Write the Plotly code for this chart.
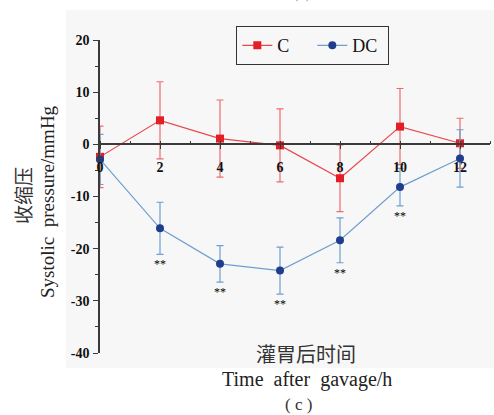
import plotly.graph_objects as go

# Data
hours = [0, 2, 4, 6, 8, 10, 12]
c_mean = [-2.4, 4.6, 1.1, -0.2, -6.5, 3.4, 0.2]
c_err = [5.9, 7.4, 7.4, 7.0, 6.4, 7.3, 4.8]
dc_mean = [-2.9, -16.1, -22.9, -24.2, -18.4, -8.2, -2.7]
dc_err = [4.8, 5.0, 3.5, 4.5, 4.3, 3.6, 5.5]
sig_hours = [2, 4, 6, 8, 10]
sig_labels = ["**", "**", "**", "**", "**"]

x_ticks = [0, 2, 4, 6, 8, 10, 12]
y_ticks = [-40, -30, -20, -10, 0, 10, 20]

SERIF = "Liberation Serif, Times New Roman, serif"
CJK = "Noto Sans CJK SC"
AXIS = "#3a3a3a"

RED = "#e41e26"
RED_LINE = "#e8474d"
RED_ERR = "#ef6b70"
BLUE = "#1f3d8c"
BLUE_LINE = "#6e9fd0"
BLUE_ERR = "#6e9fd0"

fig = go.Figure()

fig.add_trace(go.Scatter(
    x=hours, y=c_mean, name="C", mode="lines+markers",
    line=dict(color=RED_LINE, width=1.2),
    marker=dict(symbol="square", size=8, color=RED),
    error_y=dict(type="data", array=c_err, visible=True, color=RED_ERR, thickness=1.2, width=3.5),
    cliponaxis=False,
))
fig.add_trace(go.Scatter(
    x=hours, y=dc_mean, name="DC", mode="lines+markers",
    line=dict(color=BLUE_LINE, width=1.2),
    marker=dict(symbol="circle", size=8, color=BLUE),
    error_y=dict(type="data", array=dc_err, visible=True, color=BLUE_ERR, thickness=1.2, width=3.5),
    cliponaxis=False,
))

# significance marks below DC error bars
for h, lab in zip(sig_hours, sig_labels):
    i = hours.index(h)
    fig.add_annotation(x=h, y=dc_mean[i] - dc_err[i], text=lab, showarrow=False,
                       xanchor="center", yanchor="top", yshift=-1,
                       font=dict(family=SERIF, size=12, color="#000"))

ymin, ymax = -40, 20
fig.update_layout(
    width=494, height=415,
    margin=dict(l=100, r=4, t=40, b=62, autoexpand=False),
    paper_bgcolor="white", plot_bgcolor="rgba(0,0,0,0)",
    showlegend=True,
    legend=dict(orientation="h", x=0.349, y=1.045, xanchor="left", yanchor="top",
                bgcolor="rgba(0,0,0,0)", bordercolor="#333", borderwidth=1.2,
                font=dict(family=SERIF, size=18, color="#111"),
                itemwidth=30, entrywidth=30, entrywidthmode="pixels", tracegroupgap=0),
    xaxis=dict(range=[0, 13], tickvals=x_ticks, ticktext=[str(v) for v in x_ticks],
               showgrid=False, zeroline=False, showline=True, linecolor=AXIS, linewidth=1.6,
               anchor="free", position=(0 - ymin) / (ymax - ymin),
               ticks="outside", ticklen=4, tickcolor=AXIS, tickwidth=1.2, ticklabelstandoff=6,
               minor=dict(dtick=1, tick0=0, ticks="inside", ticklen=3, tickcolor=AXIS),
               tickfont=dict(family=SERIF, size=14, color="#111", weight="bold")),
    yaxis=dict(range=[ymin, ymax], tickvals=y_ticks, ticktext=[str(v) for v in y_ticks],
               showgrid=False, zeroline=False, showline=True, linecolor=AXIS, linewidth=1.6,
               ticks="outside", ticklen=5, tickcolor=AXIS, tickwidth=1.2, ticklabelstandoff=1,
               minor=dict(dtick=5, tick0=0, ticks="outside", ticklen=3, tickcolor=AXIS),
               tickfont=dict(family=SERIF, size=14, color="#111", weight="bold")),
)

# light gray panel background (pixel -> paper conversion)
def px2x(px):
    return (px - 100) / 390
def py2y(py):
    return (353 - py) / 313

fig.add_shape(type="rect", xref="paper", yref="paper", layer="below",
              x0=px2x(66), x1=px2x(496), y0=py2y(368), y1=py2y(10),
              fillcolor="#f7f7f7", line=dict(width=0))

def label(px, py, text, font, angle=0):
    fig.add_annotation(xref="paper", yref="paper", x=px2x(px), y=py2y(py), text=text,
                       textangle=angle, showarrow=False, xanchor="center", yanchor="middle",
                       font=font)

# axis titles and captions
label(22, 196, "收缩压", dict(family=CJK, size=19, color="#333"), -90)
label(47, 202, "Systolic  pressure/mmHg", dict(family=SERIF, size=19, color="#222"), -90)
label(306, 353, "灌胃后时间", dict(family=CJK, size=20, color="#333"))
label(307, 380, "Time  after  gavage/h", dict(family=SERIF, size=20, color="#222"))
label(298, 404, "( c )", dict(family=SERIF, size=17, color="#333"))
label(302, -7, "(c)", dict(family=SERIF, size=16, color="#999"))

fig.write_html("out.html", config={"displayModeBar": False},
               post_script="document.body.style.margin='0';")
